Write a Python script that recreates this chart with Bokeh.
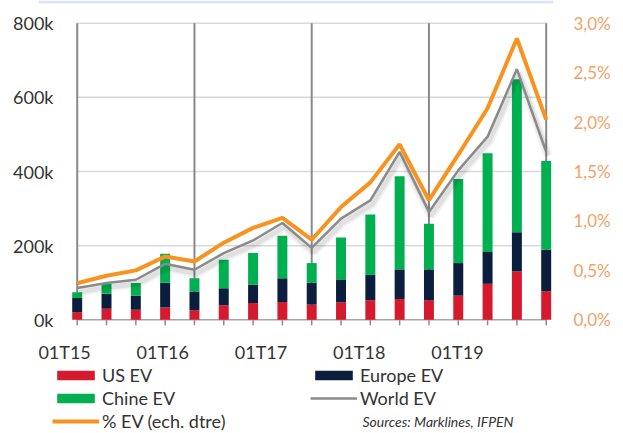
from bokeh.plotting import figure
from bokeh.models import (Range1d, LinearAxis, FixedTicker, Legend, LegendItem,
                          Label, ColumnDataSource, BoxAnnotation)
from bokeh.embed import file_html
from bokeh.resources import INLINE

# ---------------- data ----------------
quarters = ["01T15", "02T15", "03T15", "04T15",
            "01T16", "02T16", "03T16", "04T16",
            "01T17", "02T17", "03T17", "04T17",
            "01T18", "02T18", "03T18", "04T18",
            "01T19"]
us_ev = [20500, 30000, 27000, 33000, 26000, 39000, 45000, 48000, 41000,
         47000, 53000, 56000, 53000, 65000, 97000, 130000, 77000]
europe_ev = [38000, 40000, 38000, 67000, 50500, 46000, 50000, 64000, 59000,
             62000, 68000, 80000, 83000, 88000, 86000, 106000, 112000]
china_ev = [16000, 27000, 34000, 78000, 35500, 77000, 85000, 115000, 53000,
            113000, 163000, 251000, 123000, 227000, 266000, 413000, 239000]
world_ev = [86000, 99000, 108000, 151000, 135000, 180000, 214000, 261000, 194000,
            273000, 322000, 453000, 291000, 403000, 494000, 676000, 453000]
pct_ev = [0.37, 0.445, 0.50, 0.64, 0.59, 0.78, 0.93, 1.03, 0.81,
          1.14, 1.39, 1.775, 1.21, 1.67, 2.14, 2.845, 2.025]

x_tick_labels = ["01T15", "01T16", "01T17", "01T18", "01T19"]
y_ticks = [0, 200000, 400000, 600000, 800000]
y_tick_labels = ["0k", "200k", "400k", "600k", "800k"]
pct_ticks = [0.0, 0.5, 1.0, 1.5, 2.0, 2.5, 3.0]
pct_tick_labels = ["0,0%", "0,5%", "1,0%", "1,5%", "2,0%", "2,5%", "3,0%"]

# ---------------- layout (pixels) ----------------
W, H = 623, 433
FRAME_L, FRAME_R = 38, 553
X_FIRST_PX, X_LAST_PX = 76.7, 545.7
Y_ZERO_PX, Y_TOP_PX = 319.3, 22.7
x_label_pos = [-0.43, 2.92, 6.27, 9.62, 12.97]
SHADOW_DX, SHADOW_DY = 2, 4

FONT = "Lato"
RED = "#d51a2e"
NAVY = "#0b1e3d"
GREEN = "#00b050"
GREY = "#8a8a8a"
ORANGE = "#f7931e"
TXT = "#333333"

idx = list(range(len(quarters)))
n_int = idx[-1] - idx[0]
ppu = (X_LAST_PX - X_FIRST_PX) / n_int
xr = Range1d(idx[0] - (X_FIRST_PX - FRAME_L) / ppu, idx[-1] + (FRAME_R - X_LAST_PX) / ppu)
ymax = y_ticks[-1]
ppv = (Y_ZERO_PX - Y_TOP_PX) / ymax
yr = Range1d(-(H - Y_ZERO_PX) / ppv, ymax + Y_TOP_PX / ppv)
pmax = pct_ticks[-1]
ppp = (Y_ZERO_PX - Y_TOP_PX) / pmax
pr = Range1d(-(H - Y_ZERO_PX) / ppp, pmax + Y_TOP_PX / ppp)
# shifted ranges for a soft drop shadow under the world line
xr_sh = Range1d(xr.start - SHADOW_DX / ppu, xr.end - SHADOW_DX / ppu)
yr_sh = Range1d(yr.start + SHADOW_DY / ppv, yr.end + SHADOW_DY / ppv)

src = ColumnDataSource(dict(x=idx, us=us_ev, eu=europe_ev, cn=china_ev,
                            world=world_ev, pct=pct_ev))

p = figure(width=W, height=H, output_backend="svg", toolbar_location=None,
           x_range=xr, y_range=yr, x_axis_location=None,
           min_border_left=FRAME_L, min_border_right=W - FRAME_R,
           min_border_top=0, min_border_bottom=0)
p.outline_line_color = None
p.xgrid.visible = False
p.ygrid.visible = False
p.background_fill_color = "white"
p.border_fill_color = "white"
p.extra_y_ranges = {"pct": pr, "sh": yr_sh}
p.extra_x_ranges = {"sh": xr_sh}

# light blue strip at the very top
p.add_layout(BoxAnnotation(bottom=H - 3, bottom_units="screen",
                           fill_color="#dce6f2", fill_alpha=1, line_color=None))

# grid lines
hy = y_ticks[1:]
p.segment(x0=[idx[0]] * len(hy), x1=[idx[-1]] * len(hy), y0=hy, y1=hy,
          line_color="#d9d9d9", line_width=1.5)
vx = idx[::4]
p.segment(x0=vx, x1=vx, y0=[0] * len(vx), y1=[ymax] * len(vx),
          line_color=GREY, line_width=2)
# category tick marks on the baseline
p.scatter(x=idx, y=[0] * len(idx), marker="dash", angle=90, angle_units="deg",
          size=11, line_color=GREY, line_width=1.5)
p.segment(x0=[idx[0]], x1=[idx[-1]], y0=[0], y1=[0],
          line_color="#a6a6a6", line_width=1.5)

bars = p.vbar_stack(["us", "eu", "cn"], x="x", width=0.34, source=src,
                    color=[RED, NAVY, GREEN], line_color=None)

# shadow of the world line
p.line("x", "world", source=src, x_range_name="sh", y_range_name="sh",
       line_color="black", line_alpha=0.05, line_width=9)
p.line("x", "world", source=src, x_range_name="sh", y_range_name="sh",
       line_color="black", line_alpha=0.07, line_width=5)

r_world = p.line("x", "world", source=src, line_color=GREY, line_width=2.5)
r_pct = p.line("x", "pct", source=src, y_range_name="pct",
               line_color=ORANGE, line_width=4)

# left axis
ya = p.yaxis[0]
ya.ticker = FixedTicker(ticks=y_ticks)
ya.major_label_overrides = {t: l for t, l in zip(y_ticks, y_tick_labels)}
ya.axis_line_color = None
ya.major_tick_line_color = None
ya.minor_tick_line_color = None
ya.major_tick_out = 0
ya.major_tick_in = 0
ya.major_label_standoff = -15
ya.major_label_text_font = FONT
ya.major_label_text_font_size = "18px"
ya.major_label_text_color = TXT

# right axis
ra = LinearAxis(y_range_name="pct", ticker=FixedTicker(ticks=pct_ticks),
                major_label_overrides={t: l for t, l in zip(pct_ticks, pct_tick_labels)})
ra.axis_line_color = None
ra.major_tick_line_color = None
ra.minor_tick_line_color = None
ra.major_tick_out = 0
ra.major_tick_in = 0
ra.major_label_standoff = 20
ra.major_label_text_font = FONT
ra.major_label_text_font_size = "17px"
ra.major_label_text_color = "#f2a266"
p.add_layout(ra, "right")

# category labels below the axis
for pos, lab in zip(x_label_pos, x_tick_labels):
    p.add_layout(Label(x=pos, y=H - 351.5, y_units="screen", text=lab,
                       text_align="center", text_baseline="middle",
                       text_font=FONT, text_font_size="18px", text_color=TXT))

def make_legend(items, loc):
    return Legend(items=items, location=loc, padding=0, margin=0, spacing=0,
                  glyph_width=47, glyph_height=12, label_standoff=3,
                  label_height=23, label_text_font=FONT,
                  label_text_font_size="18px", label_text_color=TXT,
                  border_line_color=None, background_fill_alpha=0)

leg1 = make_legend([LegendItem(label="US EV", renderers=[bars[0]]),
                    LegendItem(label="Chine EV", renderers=[bars[2]]),
                    LegendItem(label="% EV (ech. dtre)", renderers=[r_pct])],
                   (52 - FRAME_L, int(H - 431.5)))
leg2 = make_legend([LegendItem(label="Europe EV", renderers=[bars[1]]),
                    LegendItem(label="World EV", renderers=[r_world])],
                   (310 - FRAME_L, int(H - 408.5)))
p.add_layout(leg1)
p.add_layout(leg2)

p.add_layout(Label(x=362 - FRAME_L, y=H - 421, x_units="screen", y_units="screen",
                   text="Sources: Marklines, IFPEN", text_font=FONT,
                   text_font_style="italic", text_font_size="14px",
                   text_baseline="middle", text_color=TXT))

open("out.html", "w").write(file_html(p, INLINE))
